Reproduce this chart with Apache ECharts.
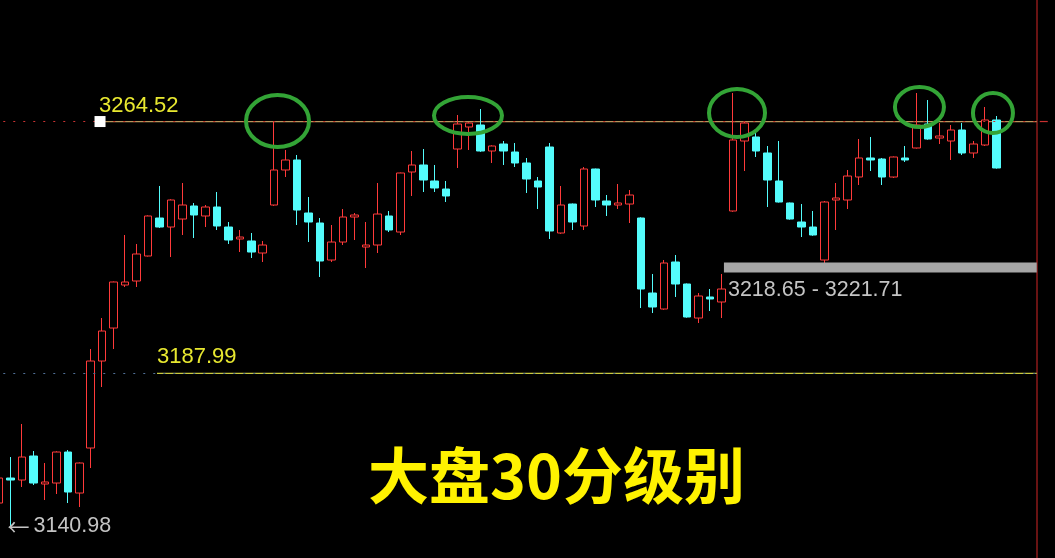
<!DOCTYPE html>
<html>
<head>
<meta charset="utf-8">
<style>
html,body{margin:0;padding:0;background:#000;}
#c{width:1055px;height:558px;}
</style>
<script src="https://cdn.jsdelivr.net/npm/echarts@6/dist/echarts.min.js"></script>
</head>
<body>
<div id="c"></div>
<script>
// ---- data (30-minute candles) ----
const opens = [3148.57,3156.17,3155.56,3162.86,3154.35,3154.65,3164.07,3151.61,3165.29,3191.73,
3201.76,3214.83,3216.05,3223.65,3235.20,3232.46,3234.89,3238.85,3235.81,3238.54,
3232.46,3228.82,3228.21,3224.56,3239.15,3249.79,3252.83,3236.72,3233.68,3222.43,
3227.90,3235.50,3226.38,3226.99,3235.81,3230.94,3249.18,3251.31,3246.45,3244.01,
3256.17,3262.86,3263.47,3255.56,3257.69,3255.26,3251.92,3246.45,3256.78,3230.64,
3239.45,3232.77,3250.09,3240.37,3239.15,3239.45,3235.20,3212.40,3207.54,3221.83,
3215.14,3204.80,3211.19,3209.67,3237.33,3258.60,3259.82,3254.96,3246.45,3239.76,
3233.98,3232.46,3222.43,3240.67,3240.67,3247.66,3253.44,3253.13,3247.66,3253.44,
3256.48,3263.77,3259.51,3258.60,3261.95,3254.96,3257.39,3264.99];
const closes = [3156.17,3155.56,3162.55,3154.65,3154.96,3164.07,3151.92,3160.73,3191.73,3200.85,
3215.75,3215.75,3224.26,3235.81,3232.46,3240.67,3239.15,3236.11,3238.54,3232.77,
3228.51,3229.42,3224.86,3226.99,3249.79,3252.83,3237.63,3233.98,3222.13,3227.90,
3235.50,3236.11,3226.99,3236.41,3231.55,3248.88,3251.31,3246.75,3244.32,3241.89,
3263.77,3264.07,3255.56,3257.08,3255.56,3251.92,3247.05,3244.62,3231.25,3239.15,
3233.98,3250.09,3240.67,3239.15,3239.76,3242.19,3213.62,3208.15,3221.52,3215.14,
3205.11,3211.49,3210.58,3213.62,3258.91,3264.07,3255.56,3246.75,3240.06,3234.89,
3232.46,3230.03,3240.06,3241.28,3247.96,3253.44,3252.83,3247.66,3253.74,3252.83,
3263.47,3259.21,3260.12,3261.95,3254.96,3257.69,3264.99,3250.40];
const lows = [3147.97,3140.98,3153.44,3154.04,3149.48,3151.31,3148.57,3147.36,3159.21,3183.83,
3195.38,3214.23,3214.23,3223.50,3232.16,3223.34,3230.03,3229.12,3232.46,3231.55,
3227.30,3224.86,3223.04,3221.83,3238.90,3247.66,3233.07,3227.90,3217.27,3221.83,
3226.99,3228.51,3220.00,3224.56,3230.94,3230.03,3241.89,3243.10,3243.10,3240.06,
3250.40,3255.87,3255.30,3251.92,3251.31,3250.70,3242.80,3237.93,3228.82,3230.40,
3231.55,3231.55,3238.54,3235.81,3237.93,3233.68,3207.84,3206.32,3207.30,3211.19,
3204.90,3203.28,3206.93,3204.80,3237.10,3249.48,3253.74,3238.54,3239.90,3234.70,
3229.42,3229.80,3221.52,3231.55,3237.93,3245.23,3249.48,3245.23,3247.36,3252.22,
3256.30,3259.00,3257.69,3252.83,3254.35,3253.44,3257.08,3250.20];
const highs = [3165.59,3162.55,3172.59,3164.38,3160.73,3164.30,3164.68,3160.90,3195.38,3204.80,
3215.90,3230.03,3227.30,3236.00,3244.93,3240.90,3245.84,3239.76,3239.15,3243.10,
3233.98,3231.55,3230.64,3228.21,3264.52,3255.87,3254.35,3241.58,3235.20,3233.07,
3237.93,3236.72,3233.98,3245.84,3237.33,3249.00,3255.56,3256.17,3251.31,3246.45,
3266.51,3264.30,3268.33,3257.30,3258.60,3258.00,3253.44,3247.66,3258.00,3244.93,
3239.60,3250.70,3250.20,3242.19,3245.53,3243.71,3235.40,3218.18,3222.43,3223.95,
3215.30,3212.40,3213.62,3218.18,3273.19,3264.68,3261.03,3257.08,3258.60,3239.90,
3239.45,3237.33,3240.37,3245.84,3249.79,3259.21,3259.82,3253.44,3253.90,3257.08,
3273.19,3271.06,3264.07,3263.47,3264.07,3258.60,3268.94,3266.20];

const resistance = 3264.52;      // 压力线
const support = 3187.99;         // 支撑线
const lowMark = 3140.98;         // 最低点
const zoneLow = 3218.65, zoneHigh = 3221.71;  // 灰色区间
const titleText = '大盘30分级别';
// circled tops: [candle index position, price]
const circles = [[24.29, 3264.68],[40.90, 3266.35],[64.36, 3267.11],[80.27, 3268.94],[86.68, 3267.11]];
const circleRadii = [[31.5,26],[34,18.5],[28,24],[24.5,20],[20,20]];

const slotCount = 91; // 88 candles + empty slots up to the price axis
const categories = Array.from({length: slotCount}, (_, i) => String(i));
const candleData = opens.map((o, i) => [o, closes[i], lows[i], highs[i]]);

const UP = '#ff3a3a', DOWN = '#54fcfc';
const chart = echarts.init(document.getElementById('c'), null, {renderer: 'canvas'});

chart.setOption({
  backgroundColor: '#000',
  animation: false,
  grid: {left: -6.74, top: 0, width: 1043.5, height: 558, containLabel: false, outerBoundsMode: 'none'},
  xAxis: {type: 'category', data: categories, boundaryGap: true, show: false},
  yAxis: {
    type: 'value', position: 'right', min: 3131.86, max: 3301.46, scale: true,
    axisLine: {show: true, lineStyle: {color: '#8c1a1a', width: 1.5}},
    axisTick: {show: false}, axisLabel: {show: false}, splitLine: {show: false}
  },
  series: [{
    type: 'candlestick',
    data: candleData,
    barWidth: 8,
    itemStyle: {color: '#000', color0: DOWN, borderColor: UP, borderColor0: DOWN, borderWidth: 1},
    markLine: {
      silent: true, symbol: 'none', animation: false,
      label: {show: false},
      data: [
        {yAxis: resistance, lineStyle: {color: '#c83030', type: [2, 8], width: 1}},
        {yAxis: support, lineStyle: {color: '#4f6f95', type: [2, 8], width: 1}}
      ]
    }
  }]
});

function pos(idx, price) {
  const i0 = Math.floor(idx), f = idx - i0;
  const a = chart.convertToPixel({gridIndex: 0}, [i0, price]);
  const b = chart.convertToPixel({gridIndex: 0}, [i0 + 1, price]);
  return [a[0] + f * (b[0] - a[0]), a[1]];
}
const band = pos(1, resistance)[0] - pos(0, resistance)[0];
const rightEdge = pos(slotCount - 1, resistance)[0] + band / 2;

const rY = pos(0, resistance)[1];
const sY = pos(0, support)[1];
const sq = pos(8.81, resistance);
const supStart = pos(13.78, support);
const zTop = pos(63.22, zoneHigh);
const zBot = pos(63.22, zoneLow);
const lowPt = pos(1, lowMark);

const numFont = '"Liberation Sans", Arial, sans-serif';
const graphics = [
  {type: 'line', shape: {x1: sq[0], y1: rY, x2: rightEdge, y2: rY}, style: {stroke: '#b8965a', lineWidth: 1.2}, z: 1},
  {type: 'line', shape: {x1: supStart[0], y1: sY, x2: rightEdge, y2: sY}, style: {stroke: '#c8c83c', lineWidth: 1.2}, z: 1},
  {type: 'rect', shape: {x: sq[0] - 5.5, y: rY - 5.5, width: 11, height: 11}, style: {fill: '#ffffff'}, z: 5},
  {type: 'text', x: sq[0] - 1, y: rY - 15.5, style: {text: String(resistance), fill: '#e8e830', font: '22px ' + numFont, textVerticalAlign: 'middle'}, z: 5},
  {type: 'text', x: supStart[0], y: sY - 16.5, style: {text: String(support), fill: '#e8e830', font: '22px ' + numFont, textVerticalAlign: 'middle'}, z: 5},
  {type: 'rect', shape: {x: zTop[0], y: zTop[1], width: rightEdge - zTop[0], height: zBot[1] - zTop[1]}, style: {fill: '#a6a6a6'}, z: 3},
  {type: 'text', x: zTop[0] + 4, y: zBot[1] + 17.5, style: {text: zoneLow + ' - ' + zoneHigh, fill: '#c4c4c4', font: '21.5px ' + numFont, textVerticalAlign: 'middle'}, z: 5},
  {type: 'text', x: lowPt[0] - 3, y: lowPt[1] - 1.5, style: {text: '\u2190', fill: '#c4c4c4', font: '22px "Noto Sans CJK SC", sans-serif', textVerticalAlign: 'middle'}, z: 5},
  {type: 'text', x: lowPt[0] + 23, y: lowPt[1] - 1.5, style: {text: String(lowMark), fill: '#c4c4c4', font: '21.5px ' + numFont, textVerticalAlign: 'middle'}, z: 5},
  {type: 'line', shape: {x1: rightEdge + 3, y1: rY, x2: rightEdge + 11, y2: rY}, style: {stroke: '#c83030', lineWidth: 1.2}, z: 5},
  {type: 'text', x: 556.5, y: 476, style: {text: titleText, fill: '#fff200', font: 'bold 61px "Noto Sans CJK SC", sans-serif', textAlign: 'center', textVerticalAlign: 'middle'}, z: 6}
];
circles.forEach((c, k) => {
  const p = pos(c[0], c[1]);
  graphics.push({type: 'ellipse', shape: {cx: p[0], cy: p[1], rx: circleRadii[k][0], ry: circleRadii[k][1]},
    style: {fill: 'none', stroke: '#33a436', lineWidth: 4}, z: 6});
});
chart.setOption({graphic: graphics});
</script>
</body>
</html>
